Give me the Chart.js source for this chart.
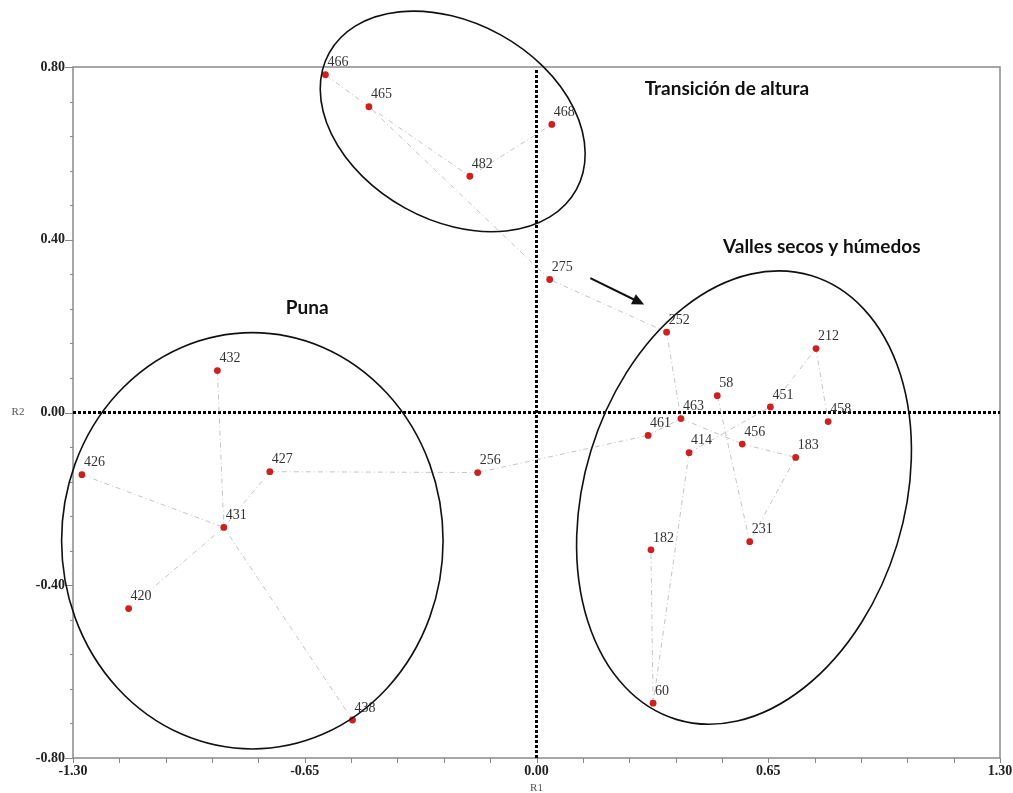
<!DOCTYPE html>
<html>
<head>
<meta charset="utf-8">
<script src="https://cdn.jsdelivr.net/npm/chart.js@4"></script>
<style>
  html, body { margin: 0; padding: 0; background: #fff; }
  #wrap { width: 1013px; height: 793px; position: relative; }
</style>
</head>
<body>
<div id="wrap"><canvas id="chart"></canvas></div>
<script>
// valores (R1, R2)
const pointIds = ['466','465','482','468','275','252','212','58','451','463','458','461','456','414','183','231','182','60','256','432','427','426','431','420','438'];
const r1Values = [-0.592,-0.470,-0.187,0.043,0.037,0.365,0.784,0.507,0.656,0.405,0.818,0.313,0.577,0.428,0.727,0.598,0.321,0.327,-0.165,-0.895,-0.748,-1.275,-0.877,-1.144,-0.516];
const r2Values = [0.782,0.708,0.547,0.667,0.308,0.186,0.148,0.039,0.013,-0.014,-0.021,-0.053,-0.073,-0.093,-0.104,-0.299,-0.318,-0.673,-0.139,0.097,-0.137,-0.144,-0.266,-0.454,-0.712];

// uniones entre sitios
const links = [
  ['432','431'], ['427','431'], ['426','431'], ['420','431'], ['438','431'], ['427','256'],
  ['256','461'], ['461','463'], ['463','252'], ['252','275'], ['275','465'], ['465','466'],
  ['465','482'], ['482','468'], ['463','456'], ['456','183'], ['183','231'], ['231','58'],
  ['414','451'], ['451','212'], ['212','458'], ['414','60'], ['60','182']
];

const xMajorTicks = [-1.30, -0.65, 0.00, 0.65, 1.30];
const yMajorTicks = [-0.80, -0.40, 0.00, 0.40, 0.80];
const minorSteps = 5;

const groupLabels = ['Transición de altura', 'Valles secos y húmedos', 'Puna'];

// anotaciones (elipses, textos y flecha) en unidades de los ejes
const groupEllipses = [
  { cx: -0.235, cy: 0.674, rx: 0.396, ry: 0.229, rot: 29 },
  { cx: 0.582, cy: -0.197, rx: 0.449, ry: 0.537, rot: 17 },
  { cx: -0.797, cy: -0.297, rx: 0.535, ry: 0.482, rot: 0 }
];
const groupLabelPos = [[0.534, 0.750], [0.800, 0.384], [-0.643, 0.243]];
const arrowPos = { from: [0.151, 0.311], to: [0.302, 0.250] };

function pointOf(id) {
  const i = pointIds.indexOf(id);
  return { x: r1Values[i], y: r2Values[i] };
}

function buildTicks(majors) {
  const out = [];
  for (let i = 0; i < majors.length; i++) {
    out.push({ value: majors[i], major: true });
    if (i < majors.length - 1) {
      const step = (majors[i + 1] - majors[i]) / minorSteps;
      for (let k = 1; k < minorSteps; k++) out.push({ value: majors[i] + k * step, major: false });
    }
  }
  return out;
}

const pointsDataset = {
  label: 'sitios',
  data: pointIds.map((id, i) => ({ x: r1Values[i], y: r2Values[i] })),
  backgroundColor: '#cf1f1f',
  borderWidth: 0,
  pointRadius: 3.4,
  showLine: false
};

const linkDatasets = links.map(([a, b]) => ({
  label: a + '-' + b,
  data: [pointOf(a), pointOf(b)],
  borderColor: '#c4c4c4',
  borderWidth: 1,
  borderDash: [5, 3, 1, 3],
  pointRadius: 0,
  showLine: true,
  fill: false
}));

const decorPlugin = {
  id: 'decor',
  beforeDatasetsDraw(chart) {
    const { ctx, chartArea: a, scales: { x, y } } = chart;
    ctx.save();
    // marco
    ctx.strokeStyle = '#8a8a8a';
    ctx.lineWidth = 1.5;
    ctx.strokeRect(a.left, a.top, a.right - a.left, a.bottom - a.top);
    // ejes en cero
    ctx.strokeStyle = '#000';
    ctx.lineWidth = 3;
    ctx.setLineDash([3, 2]);
    const x0 = x.getPixelForValue(0), y0 = y.getPixelForValue(0);
    ctx.beginPath();
    ctx.moveTo(x0, a.top + 3); ctx.lineTo(x0, a.bottom);
    ctx.moveTo(a.left, y0); ctx.lineTo(a.right, y0);
    ctx.stroke();
    ctx.restore();
  },
  afterDraw(chart) {
    const { ctx, chartArea: a, scales: { x, y } } = chart;
    ctx.save();

    // marcas de los ejes
    ctx.strokeStyle = '#888';
    ctx.lineWidth = 1;
    ctx.beginPath();
    y.ticks.forEach(t => {
      const py = Math.round(y.getPixelForValue(t.value)) + 0.5;
      const len = t.major ? 8 : 3;
      ctx.moveTo(a.left - len, py); ctx.lineTo(a.left, py);
    });
    x.ticks.forEach(t => {
      const px = Math.round(x.getPixelForValue(t.value)) + 0.5;
      ctx.moveTo(px, a.bottom); ctx.lineTo(px, a.bottom + 5);
    });
    ctx.stroke();

    // etiquetas de los sitios
    const meta = chart.getDatasetMeta(0);
    ctx.font = '14px "Liberation Serif", "Times New Roman", serif';
    ctx.fillStyle = '#333';
    ctx.textAlign = 'left';
    ctx.textBaseline = 'middle';
    meta.data.forEach((pt, i) => {
      ctx.fillText(pointIds[i], pt.x + 2, pt.y - 12);
    });

    // elipses
    ctx.strokeStyle = '#111';
    ctx.lineWidth = 1.6;
    groupEllipses.forEach(e => {
      const cx = x.getPixelForValue(e.cx), cy = y.getPixelForValue(e.cy);
      const rx = Math.abs(x.getPixelForValue(e.cx + e.rx) - cx);
      const ry = Math.abs(y.getPixelForValue(e.cy + e.ry) - cy);
      ctx.beginPath();
      ctx.ellipse(cx, cy, rx, ry, e.rot * Math.PI / 180, 0, Math.PI * 2);
      ctx.stroke();
    });

    // nombres de los grupos
    ctx.font = 'bold 19px Lato, "Open Sans", sans-serif';
    ctx.fillStyle = '#111';
    ctx.textAlign = 'center';
    groupLabels.forEach((t, i) => {
      ctx.fillText(t, x.getPixelForValue(groupLabelPos[i][0]), y.getPixelForValue(groupLabelPos[i][1]));
    });

    // flecha
    const fx = x.getPixelForValue(arrowPos.from[0]), fy = y.getPixelForValue(arrowPos.from[1]);
    const tx = x.getPixelForValue(arrowPos.to[0]), ty = y.getPixelForValue(arrowPos.to[1]);
    const ang = Math.atan2(ty - fy, tx - fx);
    ctx.strokeStyle = '#111';
    ctx.fillStyle = '#111';
    ctx.lineWidth = 2;
    ctx.beginPath();
    ctx.moveTo(fx, fy);
    ctx.lineTo(tx - 8 * Math.cos(ang), ty - 8 * Math.sin(ang));
    ctx.stroke();
    ctx.beginPath();
    ctx.moveTo(tx, ty);
    ctx.lineTo(tx - 12 * Math.cos(ang) + 5.5 * Math.sin(ang), ty - 12 * Math.sin(ang) - 5.5 * Math.cos(ang));
    ctx.lineTo(tx - 12 * Math.cos(ang) - 5.5 * Math.sin(ang), ty - 12 * Math.sin(ang) + 5.5 * Math.cos(ang));
    ctx.closePath();
    ctx.fill();

    // títulos de los ejes
    ctx.font = '11px "Liberation Serif", serif';
    ctx.fillStyle = '#555';
    ctx.textAlign = 'center';
    ctx.fillText('R1', (a.left + a.right) / 2, a.bottom + 30);
    ctx.fillText('R2', 18, y.getPixelForValue(0));

    ctx.restore();
  }
};

const tickFont = { family: '"Liberation Serif", "Times New Roman", serif', size: 14, weight: 'bold' };

new Chart(document.getElementById('chart'), {
  type: 'scatter',
  data: { datasets: [pointsDataset, ...linkDatasets] },
  options: {
    responsive: true,
    maintainAspectRatio: false,
    animation: false,
    events: [],
    layout: { padding: { top: 67, right: 13, left: 0, bottom: 0 } },
    plugins: { legend: { display: false }, tooltip: { enabled: false } },
    scales: {
      x: {
        type: 'linear',
        min: -1.30,
        max: 1.30,
        afterBuildTicks: s => { s.ticks = buildTicks(xMajorTicks); },
        afterFit: s => { s.height = 35; s.paddingLeft = 0; s.paddingRight = 0; },
        ticks: {
          autoSkip: false,
          maxRotation: 0,
          padding: 0,
          color: '#222',
          font: tickFont,
          callback: (v, i, ticks) => ticks[i].major ? v.toFixed(2) : ''
        },
        grid: { display: true, drawOnChartArea: false, drawTicks: true, tickLength: 5, color: 'rgba(0,0,0,0)' },
        border: { display: false }
      },
      y: {
        type: 'linear',
        min: -0.80,
        max: 0.80,
        afterBuildTicks: s => { s.ticks = buildTicks(yMajorTicks); },
        afterFit: s => { s.width = 73; s.paddingTop = 0; s.paddingBottom = 0; },
        ticks: {
          autoSkip: false,
          padding: 1,
          color: '#222',
          font: tickFont,
          callback: (v, i, ticks) => ticks[i].major ? v.toFixed(2) : ''
        },
        grid: { display: true, drawOnChartArea: false, drawTicks: true, tickLength: 7, color: 'rgba(0,0,0,0)' },
        border: { display: false }
      }
    }
  },
  plugins: [decorPlugin]
});
</script>
</body>
</html>
